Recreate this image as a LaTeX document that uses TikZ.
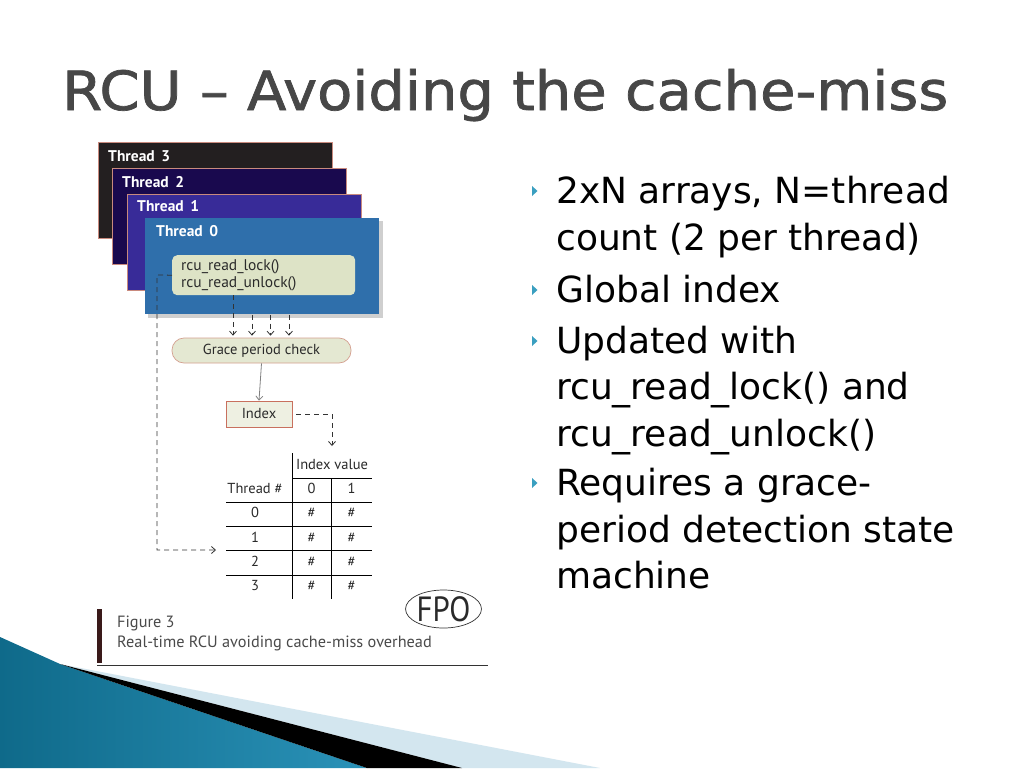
\documentclass[tikz,border=0pt]{standalone}
\usepackage{graphicx}
\usepackage{fontspec}
\setmainfont{DejaVu Sans}
\newfontfamily\titlefont[FakeBold=1.3]{DejaVu Sans}
\newfontfamily\figfont{PT Sans}
\usetikzlibrary{arrows.meta,shapes.geometric}
\definecolor{titlegray}{HTML}{474747}
\definecolor{bulletc}{HTML}{3A9FC0}
\definecolor{tthree}{HTML}{231F20}
\definecolor{ttwo}{HTML}{19094E}
\definecolor{tone}{HTML}{382B98}
\definecolor{tzero}{HTML}{2F6FAB}
\definecolor{threadedge}{HTML}{C98A7E}
\definecolor{shadowc}{HTML}{CFCFCF}
\definecolor{innerc}{HTML}{DDE3C6}
\definecolor{gracec}{HTML}{E4E8D2}
\definecolor{graceedge}{HTML}{D4A090}
\definecolor{idxc}{HTML}{EEF0E2}
\definecolor{idxedge}{HTML}{C8705E}
\definecolor{figtextc}{HTML}{2A2A2A}
\definecolor{dashc}{HTML}{333333}
\definecolor{capbar}{HTML}{3A1A1A}
\definecolor{blueA}{HTML}{0F6A8A}
\definecolor{blueB}{HTML}{55BEE0}
\definecolor{blueC}{HTML}{2A92B8}
\definecolor{lightband}{HTML}{D3E6EF}
\tikzset{
  threadbox/.style={draw=threadedge, line width=0.6pt, anchor=north west, inner sep=0pt, minimum width=234pt, minimum height=96pt},
  threadlabel/.style={anchor=base west, text=white, font=\figfont\bfseries\fontsize{15.5}{17}\selectfont, inner sep=0pt},
  figtext/.style={font=\figfont\fontsize{14.5}{17}\selectfont, text=figtextc, inner sep=0pt},
  captext/.style={font=\figfont\fontsize{16.3}{18}\selectfont, text=figtextc!85, inner sep=0pt, anchor=base west},
  dashline/.style={draw=dashc, line width=0.8pt, dash pattern=on 5pt off 4pt},
  barb/.style={-{Straight Barb[length=4pt,width=7pt]}},
  tableline/.style={draw=black, line width=0.8pt},
  bline/.style={anchor=base west, inner sep=0pt, font=\fontsize{36}{36}\selectfont, text=black},
  bmark/.style={fill=bulletc}
}
\begin{document}
\begin{tikzpicture}[x=1pt,y=-1pt]
\useasboundingbox (0,0) rectangle (1024,768);
\fill[white] (0,0) rectangle (1024,768);
% bottom decoration
\shade[left color=blueA, middle color=blueB, right color=blueC] (0,637) -- (60,664) -- (367,768) -- (0,768) -- cycle;
\fill[lightband] (60,664) -- (600,768) -- (462,768) -- cycle;
\fill[black] (60,664) -- (462,768) -- (367,768) -- cycle;
% title
\node[anchor=base west, inner sep=0pt, font=\titlefont\fontsize{54}{54}\selectfont, text=titlegray] (title) at (62,110) {\scalebox{1.066}[1]{RCU – Avoiding the cache-miss}};
% bullets
\fill[bmark] (532,186) -- (537.5,191) -- (532,196) -- cycle;
\node[bline] (b1a) at (556,203) {2xN arrays, N=thread};
\node[bline] (b1b) at (556,250) {count (2 per thread)};
\fill[bmark] (532,285) -- (537.5,290) -- (532,295) -- cycle;
\node[bline] (b2a) at (556,302) {Global index};
\fill[bmark] (532,336) -- (537.5,341) -- (532,346) -- cycle;
\node[bline] (b3a) at (556,353) {Updated with};
\node[bline] (b3b) at (556,399) {rcu\_read\_lock() and};
\node[bline] (b3c) at (556,446) {rcu\_read\_unlock()};
\fill[bmark] (532,478) -- (537.5,483) -- (532,488) -- cycle;
\node[bline] (b4a) at (556,495) {Requires a grace-};
\node[bline] (b4b) at (556,542) {period detection state};
\node[bline] (b4c) at (556,588) {machine};
% thread stack
\node[threadbox, fill=tthree] (t3) at (98,142) {};
\node[threadlabel] (l3) at (108,161) {Thread\, 3};
\node[threadbox, fill=ttwo] (t2) at (112,168) {};
\node[threadlabel] (l2) at (122,187) {Thread\, 2};
\node[threadbox, fill=tone] (t1) at (127,194) {};
\node[threadlabel] (l1) at (137,211) {Thread\, 1};
\fill[shadowc] (148,221) rectangle (383,318);
\node[threadbox, fill=tzero, draw=none] (t0) at (145,218) {};
\node[threadlabel] (l0) at (156,236) {Thread\, 0};
\node[figtext, font=\figfont\fontsize{15.5}{17}\selectfont, anchor=north west, fill=innerc, rounded corners=5pt, text width=165pt, inner xsep=9pt, inner ysep=3pt, minimum height=40pt, align=left] (rcu) at (172,255) {rcu\_read\_lock()\\rcu\_read\_unlock()};
% flow
\node[figtext, draw=graceedge, fill=gracec, line width=0.7pt, rounded corners=12pt, minimum width=179pt, minimum height=25pt] (gpc) at (261.5,350.5) {Grace period check};
\node[figtext, draw=idxedge, fill=idxc, line width=0.7pt, minimum width=66pt, minimum height=26pt] (idx) at (259,414) {Index};
\coordinate (a1) at (233,0);
\coordinate (a2) at (252,0);
\coordinate (a3) at (270.5,0);
\coordinate (a4) at (289,0);
\draw[dashline, barb, shorten >=2pt] (rcu.south -| a1) -- (gpc.north -| a1);
\draw[dashline, barb, shorten >=2pt] (t0.south -| a2) -- (gpc.north -| a2);
\draw[dashline, barb, shorten >=2pt] (t0.south -| a3) -- (gpc.north -| a3);
\draw[dashline, barb, shorten >=2pt] (t0.south -| a4) -- (gpc.north -| a4);
\draw[draw=gray, line width=0.8pt, barb] (gpc.south) -- (idx.north);
\coordinate (ic) at (332,414);
\coordinate (it) at (332,446);
\draw[dashline, barb, shorten <=4pt] (idx.east) -- (ic) -- (it);
\coordinate (lc1) at (157,275);
\coordinate (lc2) at (157,550);
\coordinate (lt) at (216,550);
\draw[dashline, barb] (rcu.west) -- (lc1) -- (lc2) -- (lt);
% table
\draw[tableline] (292,453) -- (292,599);
\draw[tableline] (331.5,478) -- (331.5,599);
\draw[tableline] (292,478) -- (372,478);
\foreach \yy in {502,526,550,575} { \draw[tableline] (226,\yy) -- (372,\yy); }
\node[figtext, anchor=base] (iv) at (332,469) {Index value};
\node[figtext, anchor=base] (th) at (255,493) {Thread \#};
\node[figtext, anchor=base] (h0) at (311.5,493) {0};
\node[figtext, anchor=base] (h1) at (351.5,493) {1};
\node[figtext, anchor=base] (r0) at (255,517) {0};
\node[figtext, anchor=base] (r1) at (255,542) {1};
\node[figtext, anchor=base] (r2) at (255,566) {2};
\node[figtext, anchor=base] (r3) at (255,590) {3};
\node[figtext, anchor=base] (v00) at (311.5,517) {\#};
\node[figtext, anchor=base] (v01) at (351.5,517) {\#};
\node[figtext, anchor=base] (v10) at (311.5,542) {\#};
\node[figtext, anchor=base] (v11) at (351.5,542) {\#};
\node[figtext, anchor=base] (v20) at (311.5,566) {\#};
\node[figtext, anchor=base] (v21) at (351.5,566) {\#};
\node[figtext, anchor=base] (v30) at (311.5,590) {\#};
\node[figtext, anchor=base] (v31) at (351.5,590) {\#};
% caption
\fill[capbar] (97,609) rectangle (101.5,663);
\draw[line width=0.9pt, draw=dashc] (97,665) -- (488,665);
\node[captext] (fig) at (117,627) {Figure 3};
\node[captext] (cap) at (117,647) {Real-time RCU avoiding cache-miss overhead};
\node[draw=dashc, ellipse, line width=0.7pt, inner sep=0pt, minimum width=69pt, minimum height=38pt, font=\figfont\fontsize{35}{35}\selectfont, text=figtextc] (fpo) at (443.5,609) {\scalebox{0.88}[1]{FPO}};
\end{tikzpicture}
\end{document}
